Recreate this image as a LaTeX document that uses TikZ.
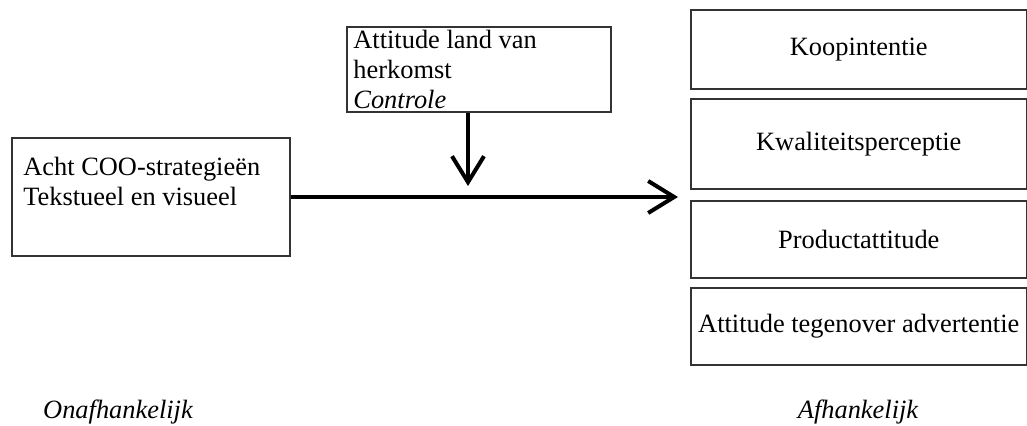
\documentclass[tikz,border=0pt]{standalone}
\usepackage{fontspec}
\setmainfont{Liberation Serif}
\usetikzlibrary{arrows.meta}

\begin{document}
\begin{tikzpicture}[x=0.5pt,y=-0.5pt]
  \tikzstyle{box}=[rectangle, draw=black!80, line width=0.6pt, inner sep=0pt]
  \tikzstyle{txt}=[inner sep=0pt, align=left, anchor=north west, font=\fontsize{13.2}{15}\selectfont]
  \tikzstyle{dv}=[box, minimum width=167.75pt, font=\fontsize{13.2}{15}\selectfont]
  \tikzstyle{side}=[inner sep=0pt, font=\fontsize{13.2}{15}\selectfont\itshape]
  \tikzstyle{link}=[line width=2pt, -{Straight Barb[length=13pt,width=16pt]}]
  \useasboundingbox (0,0) rectangle (1027,426);
  % independent variable
  \node [box, minimum width=139pt, minimum height=59pt] at (151,197) (coo) {};
  \node [txt] at (23,157) (cootext) {Acht COO-strategieën\\Tekstueel en visueel};
  % control variable
  \node [box, minimum width=132pt, minimum height=42.5pt] at (479,69.5) (ctrl) {};
  \node [txt] at (353,30) (ctrltext) {Attitude land van\\herkomst\\\textit{Controle}};
  % dependent variables
  \node [dv, minimum height=39.5pt] at (858.75,49.5)  (koop) {Koopintentie};
  \node [dv, minimum height=45pt]   at (858.75,144)   (kwal) {Kwaliteitsperceptie};
  \node [dv, minimum height=38.5pt] at (858.75,239.5) (prod) {Productattitude};
  \node [dv, minimum height=38.5pt] at (858.75,326.5) (adv)  {Attitude tegenover advertentie};
  % labels
  \node [side] at (118,412) (indep) {Onafhankelijk};
  \node [side] at (858,412) (dep)   {Afhankelijk};
  % arrows
  \coordinate (hit)  at (678,197);
  \coordinate (drop) at (468,186);
  \draw[link] (coo) -- (hit);
  \draw[link] (drop |- ctrl.south) -- (drop);
\end{tikzpicture}
\end{document}
